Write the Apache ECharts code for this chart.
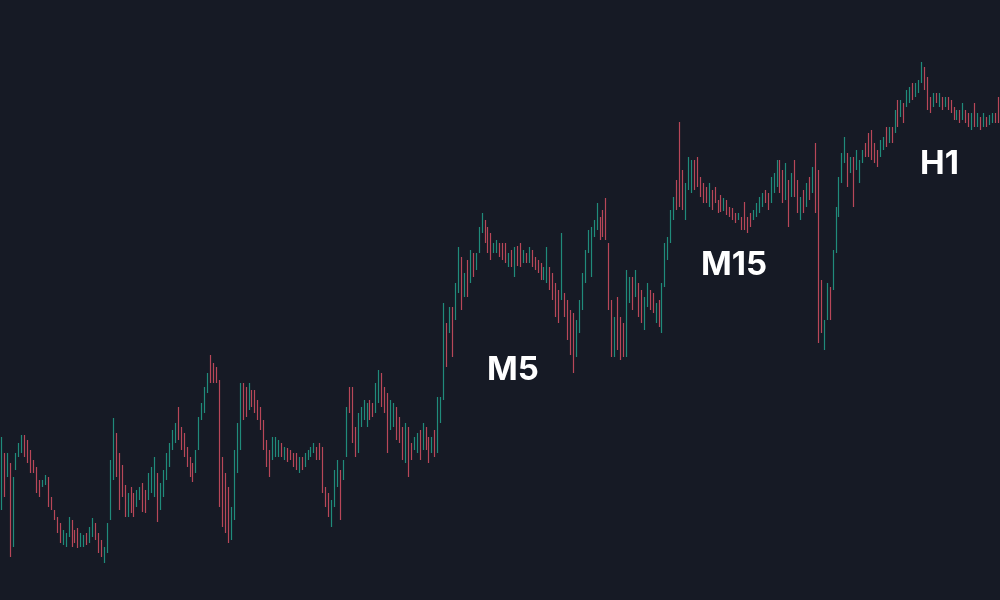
<!DOCTYPE html>
<html>
<head>
<meta charset="utf-8">
<script src="https://cdn.jsdelivr.net/npm/echarts@6/dist/echarts.min.js"></script>
<style>
html,body{margin:0;padding:0;background:#161a25;}
#chart{width:1000px;height:600px;}
</style>
</head>
<body>
<div id="chart"></div>
<script>
// [open, close, low, high]
const candlesA = [
[105,148,90,163],[138,112,103,147],[128,142,123,147],[118,62,43,137],[67,109,53,123],
[133,144,130,147],[146,154,143,157],[151,161,147,165],[161,147,143,165],[155,142,137,160],
[145,132,127,150],[137,130,127,140],[128,112,107,133],[117,106,103,120],[114,119,113,120],
[117,123,115,125],[117,99,93,123],[100,93,90,103],[88,82,80,90],[80,70,67,83],
[73,61,57,77],[58,67,55,70],[56,64,53,67],[67,79,63,83],[75,58,53,80],
[67,60,57,70],[68,56,52,72],[56,64,53,67],[55,63,53,65],[65,57,55,67],
[60,70,57,73],[67,78,63,82],[74,63,60,77],[63,51,47,67],[57,46,43,60],
[40,50,37,53],[53,71,47,77],[92,128,80,140],[132,170,120,182],[158,132,123,167],
[136,101,90,147],[129,109,103,135],[109,89,83,115],[88,102,83,107],[108,92,87,113],
[102,88,83,107],[96,107,93,110],[103,110,100,113],[111,94,88,117],[105,92,87,110]
];
const candlesB = [
[105,122,100,127],[112,128,107,133],[111,135,103,143],[117,88,78,127],[95,112,90,117],
[108,125,103,130],[125,142,120,147],[138,152,133,157],[154,166,150,170],[161,173,157,177],
[186,167,160,193],[168,155,150,173],[162,148,143,167],[149,137,133,153],[139,127,123,143],
[133,122,118,137],[132,145,127,150],[157,176,150,183],[183,194,180,197],[192,208,187,213],
[211,223,207,227],[239,223,217,245],[233,221,217,237],[230,220,217,233],[195,118,93,220],
[129,87,73,143],[115,79,67,127],[102,68,57,113],[67,86,60,93],[94,136,80,150],
[137,167,127,177],[163,204,150,217],[210,187,180,217],[207,189,183,213],[195,212,190,217],
[207,196,193,210],[205,192,187,210],[196,184,180,200],[188,175,170,193],[174,156,150,180],
[155,138,133,160],[145,128,123,150],[145,158,140,163],[147,159,143,163],[146,157,143,160],
[154,146,143,157],[143,150,140,153],[150,141,138,152]
];
const candlesC = [
[148,142,140,150],[144,136,133,147],[144,133,130,147],[130,140,127,143],[140,133,130,143],
[136,144,133,147],[142,148,140,150],[145,151,143,153],[149,155,147,157],[150,143,140,153],
[154,143,140,157],[144,116,107,153],[109,97,93,113],[102,88,83,107],[78,95,73,100],
[100,123,93,130],[118,135,113,140],[120,90,80,130],[124,136,120,140],[153,183,143,193],
[208,192,187,213],[202,168,157,213],[167,149,143,173],[155,179,147,187],[177,189,173,193],
[184,196,180,200],[178,192,173,197],[196,184,180,200],[194,186,183,197],[193,211,187,217],
[204,223,197,230],[220,200,193,227],[208,192,187,213],[195,159,147,207],[176,194,170,200],
[178,192,173,197],[186,167,160,193],[178,162,157,183],[166,147,140,173],[145,169,137,177],
[163,133,123,173],[154,143,140,157],[153,160,150,163],[151,163,147,167],[164,146,140,170],
[155,172,150,177],[168,155,150,173],[158,142,137,163],[150,160,147,163],[165,148,143,170],
[158,192,147,203],[182,198,177,203]
];
const candlesD = [
[219,278,200,297],[268,242,233,277],[272,288,267,293],[283,253,243,293],[287,310,280,317],
[316,344,307,353],[332,301,290,343],[308,322,303,327],[333,310,303,340],[324,343,317,350],
[342,328,323,347],[333,344,330,347],[352,368,347,373],[371,383,367,387],[375,362,357,380],
[368,352,347,373],[362,345,340,367],[349,355,347,357],[350,357,347,360],[354,346,343,357],
[354,343,340,357],[353,341,337,357],[336,344,333,347],[347,336,333,350],[329,347,323,353],
[350,338,334,354],[352,338,333,357],[340,347,337,350],[345,339,337,347],[340,350,337,353],
[347,336,333,350],[340,333,330,343],[337,330,327,340],[334,323,320,337],[323,330,320,333],
[324,346,317,353],[328,315,310,333],[322,305,300,327],[310,290,283,317],[303,284,277,310],
[313,354,300,367],[302,288,283,307],[292,268,260,300],[285,254,245,290],[275,239,227,287],
[250,273,243,280],[274,293,267,300],[297,320,290,327],[324,343,317,350],[352,365,347,370]
];
const candlesE = [
[333,363,323,373],[366,377,363,380],[375,392,370,397],[378,365,360,383],[385,368,363,390],
[394,368,360,402],[344,303,290,357],[289,254,243,300],[251,275,243,283],[292,261,250,303],
[274,249,240,283],[270,250,243,277],[260,313,243,330],[302,318,297,323],[316,297,290,323],
[308,325,303,330],[310,290,283,317],[303,284,277,310],[277,296,270,303],[298,312,293,317],
[306,294,290,310],[303,291,287,307],[281,293,277,297],[295,278,273,300],[277,307,267,317],
[322,348,313,357],[345,358,340,363],[364,383,357,390],[385,398,380,403],[414,396,390,420],
[461,410,393,478],[422,398,390,430],[387,410,380,417],[417,436,410,443],[414,433,407,440],
[434,416,410,440],[437,419,413,443],[419,407,403,423],[413,401,397,417],[410,400,397,413],
[398,412,393,417],[406,394,390,410],[410,400,397,413],[397,390,387,400],[402,392,388,405],
[391,400,389,402],[398,388,385,400]
];
const candlesF = [
[391,385,383,393],[390,382,380,392],[385,379,377,387],[381,386,380,387],[380,373,370,383],
[392,376,370,398],[380,370,367,383],[384,376,373,387],[382,388,380,390],[386,394,383,397],
[390,400,387,403],[396,404,393,407],[407,400,397,410],[404,393,390,407],[402,418,397,423],
[411,423,407,427],[418,435,413,440],[433,414,407,440],[423,404,397,430],[407,430,400,437],
[411,382,373,420],[408,422,403,427],[433,410,403,440],[413,394,387,420],[385,398,380,403],
[405,392,387,410],[398,412,393,417],[418,405,400,423],[412,428,407,433],[443,401,387,457],
[420,280,257,430],[309,278,267,320],[256,274,250,280],[287,310,280,317],[306,287,280,313],
[318,342,310,350],[356,384,347,393],[391,415,383,423],[423,441,417,447],[442,458,437,463],
[440,420,413,447],[430,440,427,443],[433,403,393,443],[434,446,430,450]
];
const candlesG = [
[422,435,417,440],[440,447,437,450],[454,446,443,457],[462,448,443,467],[464,446,440,470],
[453,441,437,457],[447,436,433,450],[446,457,443,460],[453,460,450,463],[469,457,453,473],
[460,470,457,473],[470,460,457,473],[472,485,467,490],[495,478,473,500],[486,497,483,500],
[493,481,477,497],[496,507,493,510],[500,510,497,513],[514,503,500,517],[506,514,503,517],
[510,517,507,520],[521,534,517,538],[528,515,510,533],[516,497,490,523],[500,490,487,503],
[496,504,493,507],[505,499,497,507],[496,504,493,507],[500,493,490,503],[495,501,493,503],
[500,493,490,503],[497,490,487,500],[490,483,480,493],[482,488,480,490],[487,480,477,490],
[483,494,480,497],[487,480,477,490],[484,476,473,487],[473,484,470,487],[492,478,473,497],
[476,484,473,487],[480,473,470,483],[476,484,473,487],[481,475,473,483],[477,483,475,485],
[479,485,477,487],[485,479,477,487],[498,482,477,503]
];
const labelTexts = ['M5', 'M15', 'H1'];

const candles = [].concat(candlesA, candlesB, candlesC, candlesD, candlesE, candlesF, candlesG);
const categories = candles.map((_, i) => 'c' + i);

const chart = echarts.init(document.getElementById('chart'));
const labelStyle = {fill: '#ffffff', font: '700 33px Inter', textVerticalAlign: 'middle'};
chart.setOption({
  backgroundColor: '#161a25',
  animation: false,
  grid: {left: 0, right: 0, top: 0, bottom: 0},
  xAxis: {type: 'category', data: categories, show: false, boundaryGap: true},
  yAxis: {type: 'value', min: 0, max: 600, show: false},
  series: [{
    type: 'candlestick',
    data: candles,
    barWidth: 1,
    itemStyle: {
      color: '#21917f', color0: '#c14a5c',
      borderColor: '#21917f', borderColor0: '#c14a5c', borderWidth: 1.2,
      opacity: 0.95
    }
  }],
  graphic: [
    {type: 'text', left: 487, top: 354, style: Object.assign({text: labelTexts[0]}, labelStyle)},
    {type: 'text', left: 701, top: 249, style: Object.assign({text: labelTexts[1]}, labelStyle)},
    {type: 'text', left: 920, top: 148, style: Object.assign({text: labelTexts[2]}, labelStyle)}
  ]
});
</script>
</body>
</html>
